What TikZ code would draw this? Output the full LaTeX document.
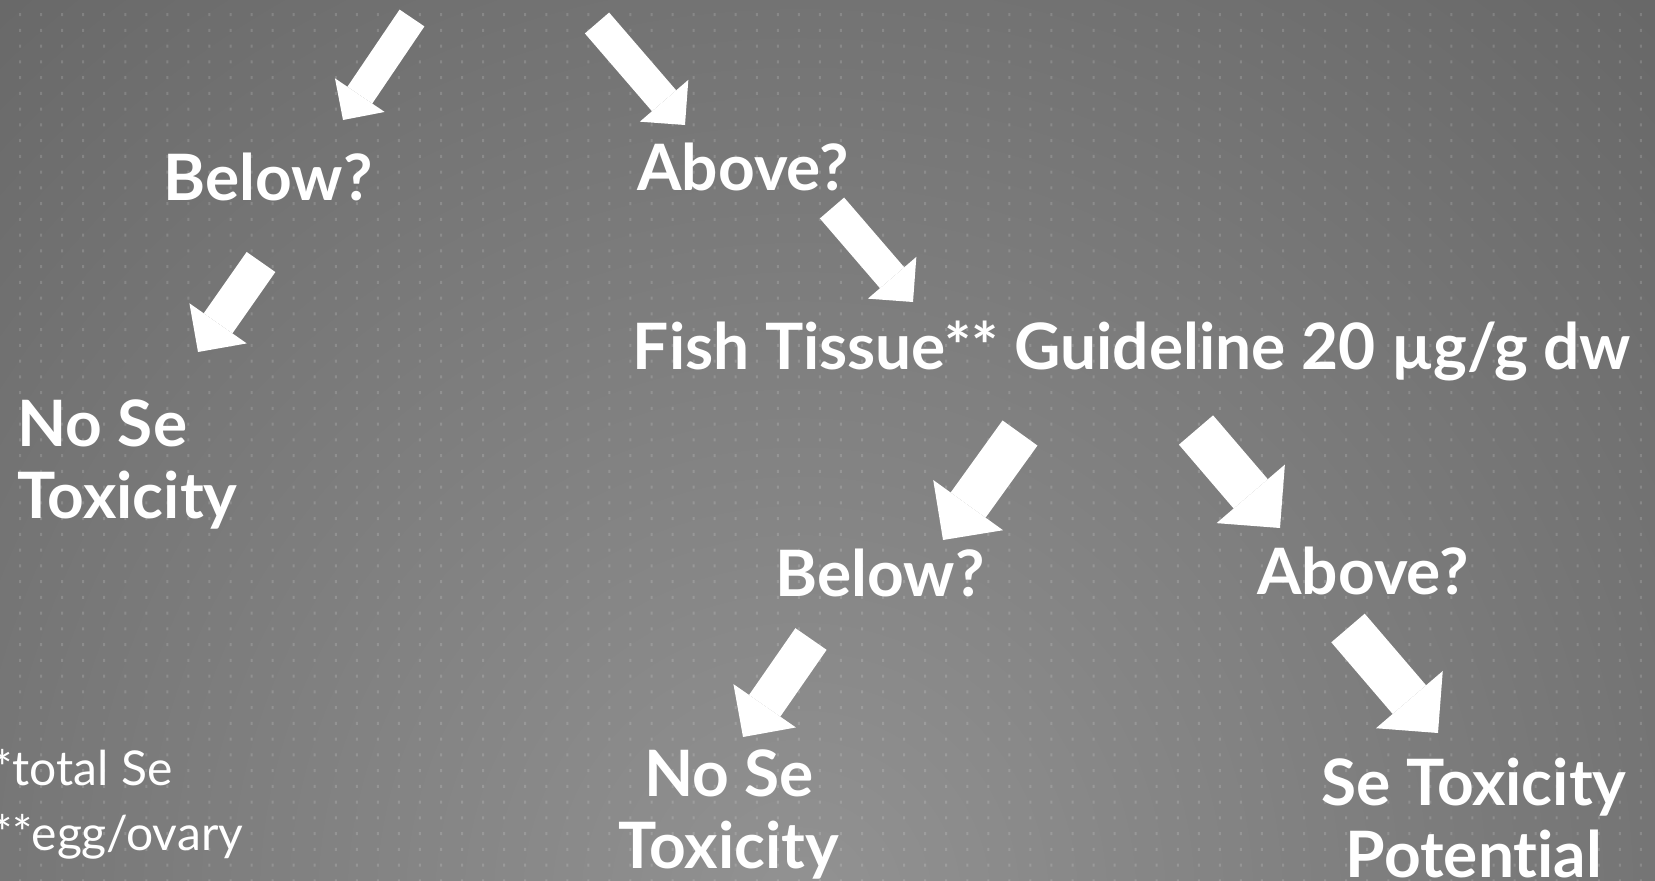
\documentclass[tikz,border=0pt]{standalone}
\usepackage{fontspec}
\setmainfont{Lato}[Ligatures=NoCommon]
\usepackage{xcolor}
\usetikzlibrary{arrows.meta}
\definecolor{glowin}{HTML}{929292}
\definecolor{glowout}{HTML}{393939}
\pgfdeclareradialshading{slideglow}{\pgfpoint{0bp}{0bp}}{color(0bp)=(glowin); color(50bp)=(glowout)}
\tikzset{
  lbl/.style={text=white, font=\bfseries\fontsize{64}{72}\selectfont, inner sep=0pt},
  note/.style={text=white, font=\fontsize{48}{65}\selectfont, inner sep=0pt, align=left},
  fatarrow/.style={draw=white, line width=#1, -{Triangle[length=0pt 1, width=0pt 2, line width=0pt]}}
}

\begin{document}
\begin{tikzpicture}[x=1pt,y=-1pt]
\useasboundingbox (0,0) rectangle (1655,881);

\begin{scope}
\clip (0,0) rectangle (1655,881);
\shade[shading=slideglow] (-500,-400) rectangle (2100,2200);
\fill[white, opacity=0.15] \foreach \i in {0,...,78} {\foreach \j in {0,...,55} {(19+21.05*\i,13+15.75*\j) rectangle ++(2,3)}};
\end{scope}

\node[lbl, anchor=base] (below1) at (268,200) {Below?};
\node[lbl, anchor=base] (above1) at (743,190) {Above?};
\node[lbl, anchor=base west, align=left] (nosetox1) at (17,518) {No Se\\Toxicity};
\node[lbl, anchor=base] (fish) at (1132,369) {Fish Tissue** Guideline 20 µg/g dw};
\node[lbl, anchor=base] (below2) at (880,596) {Below?};
\node[lbl, anchor=base] (above2) at (1363,594) {Above?};
\node[lbl, anchor=base, align=center] (nosetox2) at (729,868) {No Se\\Toxicity};
\node[lbl, anchor=base, align=center] (setox) at (1474,877) {Se Toxicity\\Potential};
\node[note, anchor=base west] (notes) at (-8,850) {*total Se\\**egg/ovary};

\coordinate (a1s) at (412,18);   \coordinate (a1e) at (343,120);
\coordinate (a2s) at (597,23);   \coordinate (a2e) at (685,125);
\coordinate (a3s) at (832,208);  \coordinate (a3e) at (913,302);
\coordinate (a4s) at (261,262);  \coordinate (a4e) at (198,352);
\coordinate (a5s) at (1020,433); \coordinate (a5e) at (943,540);
\coordinate (a6s) at (1196,430); \coordinate (a6e) at (1280,528);
\coordinate (a7s) at (811,639);  \coordinate (a7e) at (743,737);
\coordinate (a8s) at (1348,628); \coordinate (a8e) at (1438,733);

\draw[fatarrow=30pt] (a1s) -- (a1e);
\draw[fatarrow=32pt] (a2s) -- (a2e);
\draw[fatarrow=32pt] (a3s) -- (a3e);
\draw[fatarrow=35pt] (a4s) -- (a4e);
\draw[fatarrow=43pt] (a5s) -- (a5e);
\draw[fatarrow=45pt] (a6s) -- (a6e);
\draw[fatarrow=38pt] (a7s) -- (a7e);
\draw[fatarrow=44pt] (a8s) -- (a8e);

\end{tikzpicture}
\end{document}
